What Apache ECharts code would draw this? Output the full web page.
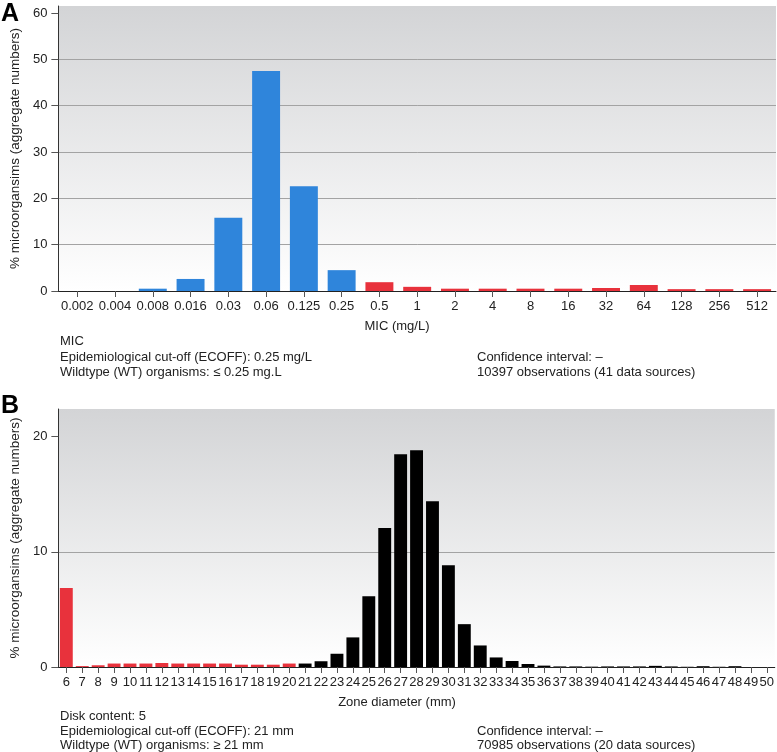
<!DOCTYPE html>
<html>
<head>
<meta charset="utf-8">
<script src="https://cdn.jsdelivr.net/npm/echarts@6/dist/echarts.min.js"></script>
<style>
html,body{margin:0;padding:0;background:#fff;}
#chart{width:777px;height:752px;}
</style>
</head>
<body>
<div id="chart"></div>
<script>
// Panel A: MIC distribution
const micCategories = ['0.002','0.004','0.008','0.016','0.03','0.06','0.125','0.25','0.5','1','2','4','8','16','32','64','128','256','512'];
const micValues = [0, 0, 0.5, 2.6, 15.8, 47.5, 22.6, 4.5, 1.9, 0.9, 0.5, 0.5, 0.5, 0.5, 0.65, 1.3, 0.4, 0.4, 0.4];
const micEcoffIndex = 7; // last wildtype category (0.25)
const micYTicks = [0, 10, 20, 30, 40, 50, 60];

// Panel B: zone diameter distribution
const zoneCategories = ['6','7','8','9','10','11','12','13','14','15','16','17','18','19','20','21','22','23','24','25','26','27','28','29','30','31','32','33','34','35','36','37','38','39','40','41','42','43','44','45','46','47','48','49','50'];
const zoneValues = [6.85, 0.08, 0.15, 0.3, 0.3, 0.3, 0.35, 0.3, 0.3, 0.3, 0.3, 0.2, 0.2, 0.2, 0.3, 0.3, 0.5, 1.15, 2.57, 6.15, 12.06, 18.47, 18.81, 14.4, 8.83, 3.72, 1.87, 0.83, 0.52, 0.26, 0.12, 0.05, 0.05, 0.03, 0.05, 0.05, 0.05, 0.1, 0.05, 0.02, 0.07, 0.02, 0.07, 0, 0];
const zoneEcoffIndex = 15; // first wildtype category (21)
const zoneYTicks = [0, 10, 20];

const FONT = "'Liberation Sans', Arial, sans-serif";
const BLUE = '#2f85db', RED = '#e8323c', BLACK = '#000000';

const chart = echarts.init(document.getElementById('chart'), null, {renderer: 'canvas'});

function bg() {
  return new echarts.graphic.LinearGradient(0, 0, 0, 1, [
    {offset: 0, color: '#d3d4d6'},
    {offset: 1, color: '#ffffff'}
  ]);
}

function yAxisCfg(gridIndex, max, ticks) {
  return {
    type: 'value', gridIndex: gridIndex, min: 0, max: max, interval: 10,
    name: '% microorgansims (aggregate numbers)',
    nameLocation: 'middle', nameGap: 35, nameRotate: 90,
    nameTextStyle: {fontFamily: FONT, fontSize: 13.5, color: '#222'},
    axisLine: {show: true, lineStyle: {color: '#333', width: 1}},
    axisTick: {show: true, length: 7, lineStyle: {color: '#555'}, customValues: ticks},
    axisLabel: {fontFamily: FONT, fontSize: 13, color: '#222', margin: 11, customValues: ticks},
    splitLine: {show: true, showMaxLine: false, lineStyle: {color: '#a3a3a3', width: 1}}
  };
}

function xAxisCfg(gridIndex, cats) {
  return {
    type: 'category', gridIndex: gridIndex, data: cats,
    axisLine: {show: true, lineStyle: {color: '#222', width: 1}},
    axisTick: {show: true, alignWithLabel: true, length: 6, lineStyle: {color: '#555'}},
    axisLabel: {interval: 0, fontFamily: FONT, fontSize: 13, color: '#222', margin: 9}
  };
}

const micData = micValues.map((v, i) => ({value: v, itemStyle: {color: i <= micEcoffIndex ? BLUE : RED}}));
const zoneData = zoneValues.map((v, i) => ({value: v, itemStyle: {color: i >= zoneEcoffIndex ? BLACK : RED}}));

function txt(text, x, y, align) {
  return {type: 'text', x: x, y: y, style: {text: text, font: '13px ' + FONT, fill: '#222', textAlign: align || 'left', textVerticalAlign: 'middle'}};
}

const LX = 60, RX = 477;

chart.setOption({
  animation: false,
  grid: [
    {left: 57, right: 1, top: 6, bottom: 461, show: true, backgroundColor: bg(), borderWidth: 0},
    {left: 57, right: 1, top: 409, bottom: 85, show: true, backgroundColor: bg(), borderWidth: 0}
  ],
  xAxis: [xAxisCfg(0, micCategories), xAxisCfg(1, zoneCategories)],
  yAxis: [yAxisCfg(0, 61.5, micYTicks), yAxisCfg(1, 22.4, zoneYTicks)],
  series: [
    {type: 'bar', xAxisIndex: 0, yAxisIndex: 0, data: micData, barCategoryGap: '26%'},
    {type: 'bar', xAxisIndex: 1, yAxisIndex: 1, data: zoneData, barCategoryGap: '19%'}
  ],
  graphic: [
    {type: 'text', x: 1, y: 14, style: {text: 'A', font: 'bold 25px ' + FONT, fill: '#000', textVerticalAlign: 'middle'}},
    {type: 'text', x: 1, y: 406, style: {text: 'B', font: 'bold 25px ' + FONT, fill: '#000', textVerticalAlign: 'middle'}},
    txt('MIC (mg/L)', 397, 326, 'center'),
    txt('MIC', LX, 341),
    txt('Epidemiological cut-off (ECOFF): 0.25 mg/L', LX, 357),
    txt('Wildtype (WT) organisms: \u2264 0.25 mg.L', LX, 372),
    txt('Confidence interval: \u2013', RX, 357),
    txt('10397 observations (41 data sources)', RX, 372),
    txt('Zone diameter (mm)', 397, 702, 'center'),
    txt('Disk content: 5', LX, 716),
    txt('Epidemiological cut-off (ECOFF): 21 mm', LX, 731),
    txt('Wildtype (WT) organisms: \u2265 21 mm', LX, 745),
    txt('Confidence interval: \u2013', RX, 731),
    txt('70985 observations (20 data sources)', RX, 745)
  ]
});
</script>
</body>
</html>
